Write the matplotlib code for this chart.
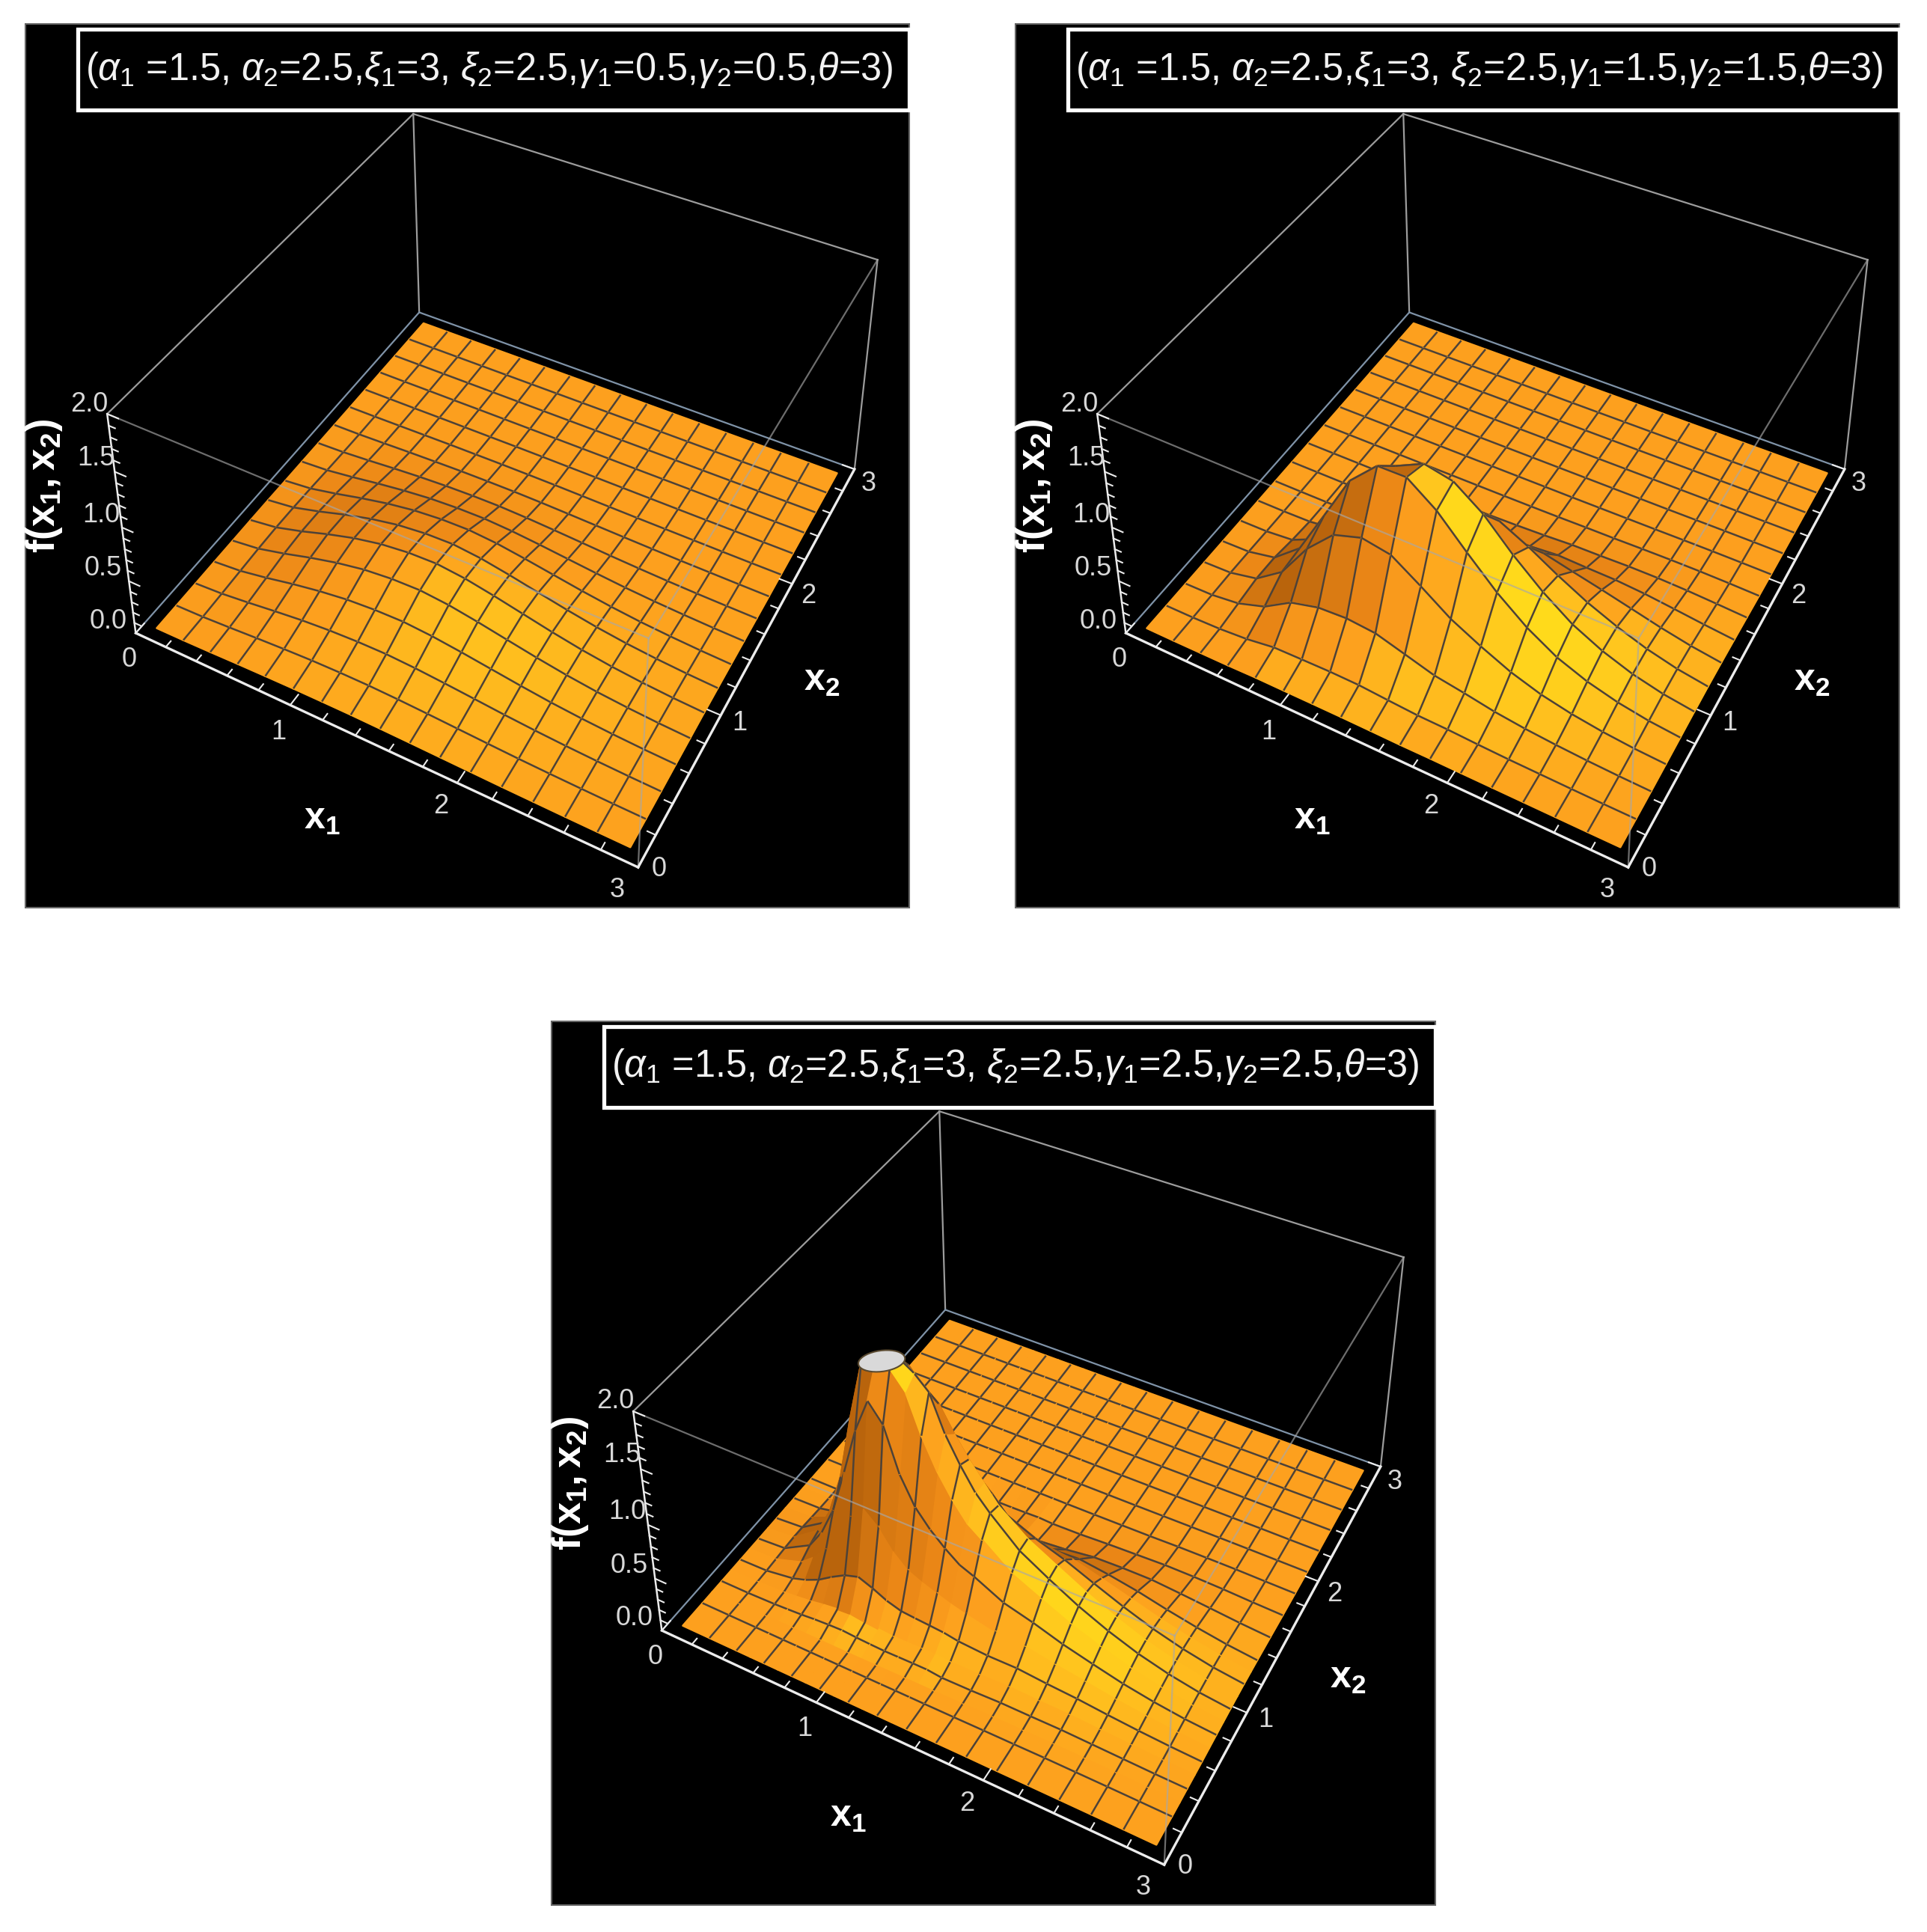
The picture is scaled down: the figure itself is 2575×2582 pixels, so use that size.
import numpy as np
import matplotlib
matplotlib.use('Agg')
import matplotlib.pyplot as plt
import matplotlib.patches as mpatches
from mpl_toolkits.mplot3d.art3d import Poly3DCollection

plt.rcParams['font.family'] = ['Liberation Sans', 'DejaVu Sans']
plt.rcParams['mathtext.fontset'] = 'custom'
plt.rcParams['mathtext.rm'] = 'Liberation Sans'
plt.rcParams['mathtext.it'] = 'Liberation Sans:italic'
plt.rcParams['mathtext.bf'] = 'Liberation Sans:bold'

#titles of the panels
titles = [
    r'($\alpha_1$ =1.5, $\alpha_2$=2.5,$\xi_1$=3, $\xi_2$=2.5,$\gamma_1$=0.5,$\gamma_2$=0.5,$\theta$=3)',
    r'($\alpha_1$ =1.5, $\alpha_2$=2.5,$\xi_1$=3, $\xi_2$=2.5,$\gamma_1$=1.5,$\gamma_2$=1.5,$\theta$=3)',
    r'($\alpha_1$ =1.5, $\alpha_2$=2.5,$\xi_1$=3, $\xi_2$=2.5,$\gamma_1$=2.5,$\gamma_2$=2.5,$\theta$=3)',
]
x_ticks = ['0', '1', '2', '3']
z_ticks = ['0.0', '0.5', '1.0', '1.5', '2.0']

#grid nodes, in 1/32 of the plotted range; even steps carry a mesh line
steps_even = list(range(0, 33, 2))
steps_x1_fine = [0, 2, 4, 5, 6, 7, 8, 9, 10, 11, 12, 13, 14, 15, 16, 18, 20, 22, 24, 26, 28, 30, 32]
steps_x2_fine = [0, 2, 3, 4, 5, 6, 7, 8, 9, 10, 11, 12, 13, 14, 16, 18, 20, 22, 24, 26, 28, 30, 32]

#heights, one row per x1 node, trailing zeros left out
z_panel1 = [
    [.001, .002, .003, .005, .006, .007, .007, .005, .004, .002, .001],
    [.004, .009, .018, .028, .038, .043, .04, .032, .021, .012, .005, .002, .001],
    [.01, .024, .047, .074, .101, .114, .108, .086, .056, .031, .014, .006, .002, .001],
    [.018, .041, .08, .128, .173, .196, .185, .147, .096, .053, .024, .01, .004, .001],
    [.024, .056, .11, .174, .236, .268, .252, .201, .131, .072, .032, .014, .005, .002],
    [.029, .068, .131, .209, .284, .321, .302, .241, .158, .086, .039, .016, .006, .002],
    [.031, .074, .143, .227, .309, .35, .329, .263, .172, .094, .042, .018, .007, .002],
    [.032, .075, .146, .232, .315, .357, .336, .268, .175, .096, .043, .018, .007, .002],
    [.029, .069, .134, .213, .29, .328, .309, .247, .161, .088, .04, .017, .006, .002],
    [.025, .059, .114, .181, .246, .278, .262, .209, .137, .075, .034, .014, .005, .002],
    [.02, .047, .091, .144, .195, .221, .208, .166, .109, .06, .027, .011, .004, .001],
    [.015, .035, .067, .107, .145, .164, .155, .123, .081, .044, .02, .008, .003, .001],
    [.01, .024, .047, .074, .101, .114, .108, .086, .056, .031, .014, .006, .002, .001],
    [.007, .016, .031, .049, .066, .075, .071, .056, .037, .02, .009, .004, .001],
    [.004, .01, .019, .03, .041, .046, .044, .035, .023, .012, .006, .002, .001],
    [.002, .005, .01, .016, .022, .025, .024, .019, .012, .007, .003, .001],
    [.001, .002, .004, .007, .009, .011, .01, .008, .005, .003, .001, .001],
]
z_panel2 = [
    [0],
    [0, .002, .006, .01, .008, .004, .001],
    [.002, .011, .039, .067, .062, .029, .007, .001],
    [.004, .032, .125, .246, .266, .147, .041, .007, .001],
    [.01, .072, .282, .581, .69, .443, .154, .032, .004],
    [.01, .078, .352, .824, 1.12, .824, .329, .078, .01, .001],
    [.011, .083, .368, .907, 1.36, 1.165, .566, .172, .028, .003],
    [.011, .08, .346, .862, 1.363, 1.289, .724, .261, .054, .007],
    [.009, .061, .268, .686, 1.17, 1.234, .806, .346, .088, .014, .001],
    [.006, .044, .189, .498, .9, 1.044, .776, .391, .123, .024, .003],
    [.007, .039, .146, .36, .643, .779, .643, .375, .146, .039, .007, .001],
    [.005, .027, .097, .238, .432, .549, .487, .312, .137, .043, .009, .002],
    [.004, .018, .064, .15, .271, .359, .347, .251, .131, .05, .014, .003],
    [.003, .013, .041, .092, .165, .226, .233, .186, .111, .05, .017, .005, .001],
    [.002, .008, .024, .052, .092, .128, .139, .12, .08, .042, .017, .006, .002],
    [.001, .004, .012, .025, .044, .062, .07, .064, .047, .028, .013, .005, .002],
    [.001, .002, .004, .009, .015, .021, .025, .023, .018, .012, .006, .003, .001],
]
z_panel3 = [
    [0],
    [0, 0, 0, 0, .002, .005, .011, .017, .021, .019, .012, .006, .002],
    [0, 0, 0, .007, .014, .044, .096, .158, .198, .182, .122, .059, .021, .005],
    [0, 0, .001, .014, .027, .086, .198, .34, .441, .419, .29, .146, .054, .014],
    [0, 0, .002, .022, .043, .145, .344, .612, .825, .808, .578, .302, .115, .031, .001],
    [0, 0, .002, .034, .066, .23, .555, 1.02, 1.425, 1.455, 1.08, .585, .23, .066, .002],
    [0, 0, .002, .042, .083, .304, .765, 1.45, 1.95, 1.92, 1.6, .945, .383, .113, .004],
    [0, 0, .001, .047, .093, .345, .9, 1.76, 2, 2, 1.85, 1.33, .56, .174, .006],
    [0, 0, .001, .038, .076, .294, .784, 1.6, 2, 2, 1.85, 1.37, .605, .193, .008],
    [0, 0, .001, .032, .064, .231, .607, 1.21, 1.85, 1.92, 1.7, 1.21, .572, .205, .011, .001],
    [0, 0, .002, .028, .054, .191, .486, .963, 1.51, 1.8, 1.61, 1.09, .558, .216, .014, .002],
    [0, 0, .002, .03, .057, .18, .428, .81, 1.245, 1.485, 1.395, 1.005, .57, .252, .023, .003],
    [0, .001, .004, .032, .06, .171, .381, .69, 1.04, 1.255, 1.208, .93, .572, .281, .034, .006],
    [0, .001, .004, .032, .06, .161, .337, .59, .875, 1.058, 1.048, .846, .557, .3, .048, .01],
    [0, .001, .005, .017, .052, .139, .302, .536, .777, .92, .889, .702, .453, .259, .041, .003],
    [0, .002, .007, .02, .053, .123, .243, .405, .572, .682, .689, .588, .424, .277, .065, .008, .001],
    [.001, .004, .012, .029, .063, .125, .218, .334, .448, .529, .548, .499, .399, .294, .101, .021, .003],
    [0, .005, .013, .028, .055, .102, .169, .249, .328, .388, .41, .388, .328, .258, .109, .03, .005, .001],
    [.001, .007, .015, .029, .051, .085, .13, .182, .232, .271, .289, .282, .251, .211, .109, .039, .01, .002],
    [.001, .006, .012, .022, .037, .059, .087, .119, .15, .175, .188, .188, .173, .15, .087, .037, .011, .003],
    [.001, .005, .009, .015, .024, .037, .054, .072, .09, .104, .113, .115, .108, .097, .062, .03, .011, .003, .001],
    [.001, .003, .005, .008, .013, .02, .028, .037, .046, .053, .058, .06, .058, .053, .036, .018, .007, .002],
    [0, .001, .002, .004, .006, .008, .012, .016, .019, .022, .024, .025, .024, .022, .016, .009, .004, .001],
]
#flat top where the third surface is cut off at z=2:
#centre x1, x2, then the two half axes of its outline as x1, x2 pairs
cap_panel3 = (0.897, 0.909, 0.098, 0.071, 0.04, -0.071)

panels = [(34, 32, z_panel1, steps_even, steps_even, None),
          (1357, 32, z_panel2, steps_even, steps_even, None),
          (737, 1365, z_panel3, steps_x1_fine, steps_x2_fine, cap_panel3)]

FIG_W, FIG_H = 2575, 2582
SIDE = 1181
X_LO, X_HI, Z_TOP = 0.08, 2.92, 2.0

#box corners and where they land in a panel (pixels from its top left)
corners_world = np.array([[0, 0, 0], [3, 0, 0], [3, 3, 0], [0, 3, 0],
                          [0, 0, 2], [3, 0, 2], [3, 3, 2], [0, 3, 2]], float)
corners_px = np.array([[149, 815], [817, 1128], [1108, 595], [526, 384],
                       [108, 521], [834, 819], [1139, 316], [518, 121]], float)

#tick label places in a panel, same pixels
x1_label_px = [(139, 849), (338, 946), (555, 1045), (791, 1157)]
x2_label_px = [(847, 1129), (954, 934), (1046, 765), (1127, 615)]
z_label_px = [(111, 798), (104, 727), (101, 656), (94, 580), (85, 508)]


def camera(world, px):
    #panel pixels to the -1..1 range the 3d axes works in
    u_all = px[:, 0]/SIDE*2-1
    v_all = 1-px[:, 1]/SIDE*2
    rows, rhs = [], []
    for (X, Y, Z), u, v in zip(world, u_all, v_all):
        rows.append([X, Y, Z, 1, 0, 0, 0, 0, -u*X, -u*Y, -u*Z])
        rows.append([0, 0, 0, 0, X, Y, Z, 1, -v*X, -v*Y, -v*Z])
        rhs += [u, v]
    p = np.linalg.lstsq(np.array(rows), np.array(rhs), rcond=None)[0]
    #third row only orders depth: far points get the larger value
    return np.array([p[:4], p[4:8], [0, 0, 0, -1], [p[8], p[9], p[10], 1]])


M = camera(corners_world, corners_px)

stops = [-1, -0.35, 0, 0.35, 0.7, 1]
red = [185, 235, 253, 255, 255, 255]
green = [100, 135, 160, 195, 232, 245]
blue = [12, 22, 30, 30, 25, 70]
light = np.array([0.5, -0.3, 0.81])
light = light/np.linalg.norm(light)
MESH = (0.30, 0.26, 0.22, 1)


def face_colour(dz1, dz2):
    n = np.array([-dz1*0.6, -dz2*0.6, 1])
    t = (n/np.linalg.norm(n)).dot(light) - light[2]
    t = t/0.33
    return (np.interp(t, stops, red)/255, np.interp(t, stops, green)/255, np.interp(t, stops, blue)/255, 1)


def draw_surface(ax, rows, steps1, steps2, cap):
    x1 = X_LO + (X_HI-X_LO)*np.array(steps1)/32
    x2 = X_LO + (X_HI-X_LO)*np.array(steps2)/32
    z = np.array([r + [0]*(len(x2)-len(r)) for r in rows], float)
    verts, face, edge = [], [], []
    for i in range(len(x1)-1):
        for j in range(len(x2)-1):
            verts.append([(x1[i], x2[j], z[i, j]), (x1[i+1], x2[j], z[i+1, j]),
                          (x1[i+1], x2[j+1], z[i+1, j+1]), (x1[i], x2[j+1], z[i, j+1])])
            dz1 = (z[i+1, j]+z[i+1, j+1]-z[i, j]-z[i, j+1])/2/(x1[i+1]-x1[i])
            dz2 = (z[i, j+1]+z[i+1, j+1]-z[i, j]-z[i+1, j])/2/(x2[j+1]-x2[j])
            col = face_colour(dz1, dz2)
            face.append(col)
            edge.append(col)
    #mesh lines go in the same collection so the peak hides those behind it
    for i, s in enumerate(steps1):
        if s % 2 == 0 and 0 < s < 32:
            for j in range(len(x2)-1):
                if min(z[i, j], z[i, j+1]) < Z_TOP:
                    a, b = (x1[i], x2[j], z[i, j]), (x1[i], x2[j+1], z[i, j+1])
                    verts.append([a, b, b, a])
                    face.append((0, 0, 0, 0))
                    edge.append(MESH)
    for j, s in enumerate(steps2):
        if s % 2 == 0 and 0 < s < 32:
            for i in range(len(x1)-1):
                if min(z[i, j], z[i+1, j]) < Z_TOP:
                    a, b = (x1[i], x2[j], z[i, j]), (x1[i+1], x2[j], z[i+1, j])
                    verts.append([a, b, b, a])
                    face.append((0, 0, 0, 0))
                    edge.append(MESH)
    poly = Poly3DCollection(verts, facecolors=face, edgecolors=edge, linewidths=1.8, zsort='max', zorder=2)
    ax.add_collection3d(poly, autolim=False)
    if cap:
        a = np.linspace(0, 2*np.pi, 40)
        ring_x1 = cap[0] + cap[2]*np.cos(a) + cap[4]*np.sin(a)
        ring_x2 = cap[1] + cap[3]*np.cos(a) + cap[5]*np.sin(a)
        ring = list(zip(ring_x1, ring_x2, Z_TOP+0*a))
        top = Poly3DCollection([ring], facecolors='#d9d9d9', edgecolors='#5a4a30', linewidths=1.5, zorder=2.5)
        ax.add_collection3d(top, autolim=False)


def seg(ax, a, b, **kw):
    ax.plot([a[0], b[0]], [a[1], b[1]], [a[2], b[2]], **kw)


def draw_frame(ax):
    #edges behind the surface
    back = dict(color='#9c9c9c', lw=1.6, zorder=1)
    seg(ax, (0, 3, 0), (0, 3, 2), **back)
    seg(ax, (0, 3, 2), (0, 0, 2), **back)
    seg(ax, (0, 3, 2), (3, 3, 2), **back)
    seg(ax, (3, 3, 2), (3, 3, 0), **back)
    floor = dict(color='#7f93a8', lw=1.6, zorder=1)
    seg(ax, (0, 0, 0), (0, 3, 0), **floor)
    seg(ax, (0, 3, 0), (3, 3, 0), **floor)
    #edges in front, the surface shows through
    front = dict(color='#a8a8a8', lw=1.6, alpha=0.65, zorder=3)
    seg(ax, (0, 0, 2), (3, 0, 2), **front)
    seg(ax, (3, 0, 2), (3, 3, 2), **front)
    seg(ax, (3, 0, 2), (3, 0, 0), **front)
    #axes with their ticks
    axis = dict(color='#ececec', lw=2.4, zorder=4)
    seg(ax, (0, 0, 0), (3, 0, 0), **axis)
    seg(ax, (3, 0, 0), (3, 3, 0), **axis)
    seg(ax, (0, 0, 0), (0, 0, 2), color='#ececec', lw=1.8, zorder=4)
    tick = dict(color='#ececec', lw=1.5, zorder=4)
    for t in np.arange(0, 3.01, 0.2):
        size = 0.075 if abs(t-round(t)) < 1e-6 else 0.045
        seg(ax, (t, 0, 0), (t, size, 0), **tick)
        seg(ax, (3, t, 0), (3-size, t, 0), **tick)
    for t in np.arange(0, 2.01, 0.1):
        size = 0.07 if abs(t*2-round(t*2)) < 1e-6 else 0.04
        seg(ax, (0, 0, t), (size, 0, t), **tick)


def draw_text(ax, title):
    def put(px, s, **kw):
        ax.text2D(px[0]/SIDE, 1-px[1]/SIDE, s, ha='center', va='center', transform=ax.transAxes, **kw)
    lab = dict(color='#d8d8d8', fontsize=26, zorder=5)
    for px, s in zip(x1_label_px, x_ticks):
        put(px, s, **lab)
    for px, s in zip(x2_label_px, x_ticks):
        put(px, s, **lab)
    for px, s in zip(z_label_px, z_ticks):
        put(px, s, **lab)
    put((396, 1063), r'$\mathbf{x_1}$', color='white', fontsize=36)
    put((1064, 878), r'$\mathbf{x_2}$', color='white', fontsize=36)
    put((25, 618), r'$\mathbf{f(x_1,x_2)}$', color='white', fontsize=38, rotation=90)
    put((620, 61), title, color='#f2f2f2', fontsize=36.4, zorder=7)


fig = plt.figure(figsize=(FIG_W/100, FIG_H/100), dpi=100, facecolor='white')
for (left, top, rows, steps1, steps2, cap), title in zip(panels, titles):
    ax = fig.add_axes([left/FIG_W, 1-(top+SIDE)/FIG_H, SIDE/FIG_W, SIDE/FIG_H],
                      projection='3d', computed_zorder=False)
    ax.set_facecolor('black')
    ax.patch.set_edgecolor('#666666')
    ax.patch.set_linewidth(1.5)
    ax.set_axis_off()
    draw_surface(ax, rows, steps1, steps2, cap)
    draw_frame(ax)
    draw_text(ax, title)
    ax.get_proj = lambda: M
    ax.viewLim.intervalx = (-1, 1)
    ax.viewLim.intervaly = (-1, 1)
    fig.add_artist(mpatches.Rectangle((70/SIDE, 1-115/SIDE), 1-70/SIDE, 108/SIDE, transform=ax.transAxes,
                                      fill=False, edgecolor='white', linewidth=3.8, zorder=6))

fig.savefig('out.png', dpi=100)
